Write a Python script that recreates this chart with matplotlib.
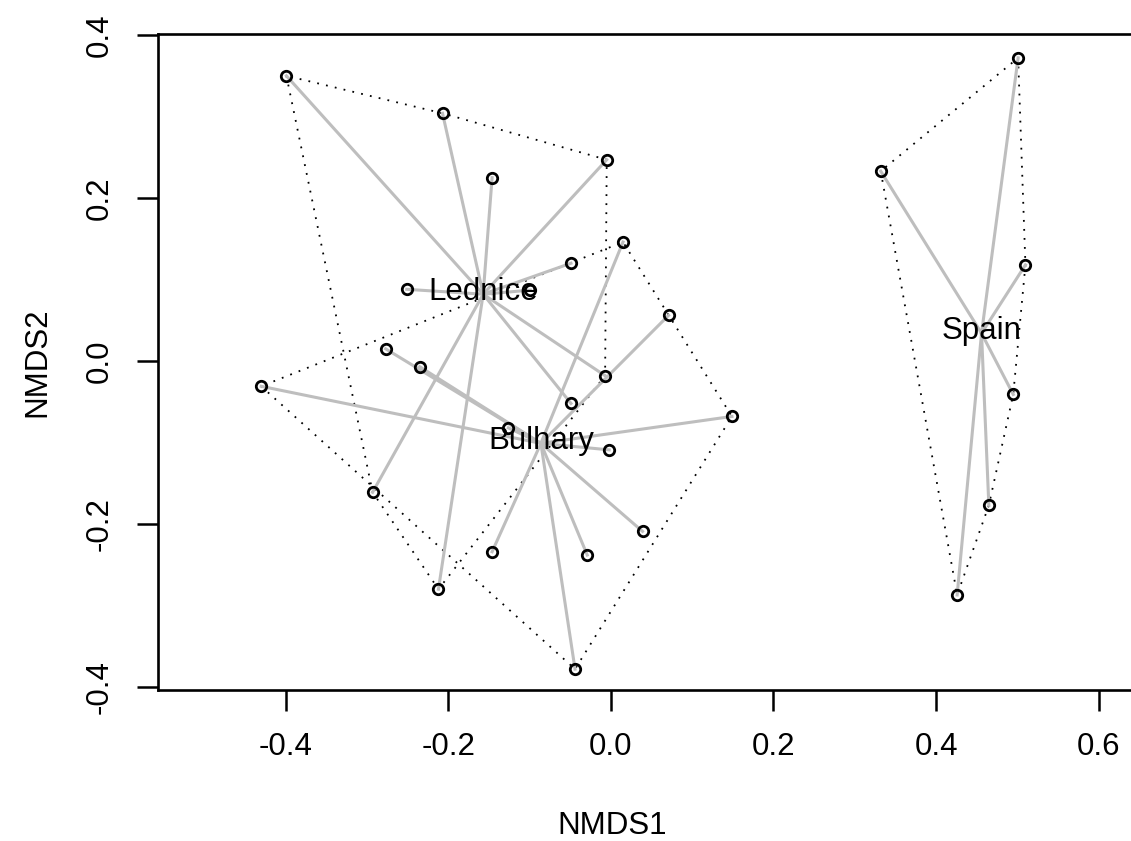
import matplotlib.pyplot as plt

# Site scores (NMDS1, NMDS2) per locality
lednice_x = [-0.399, -0.207, -0.146, -0.005, -0.049, -0.251, -0.099, -0.293, -0.212, -0.007, -0.049]
lednice_y = [0.350, 0.304, 0.225, 0.247, 0.120, 0.088, 0.087, -0.161, -0.280, -0.018, -0.052]

bulhary_x = [-0.430, -0.277, -0.235, -0.126, 0.015, 0.071, 0.149, -0.002, 0.039, -0.029, -0.146, -0.044]
bulhary_y = [-0.031, 0.015, -0.007, -0.082, 0.146, 0.056, -0.068, -0.109, -0.209, -0.238, -0.234, -0.378]

spain_x = [0.332, 0.501, 0.510, 0.495, 0.465, 0.426]
spain_y = [0.233, 0.372, 0.118, -0.041, -0.177, -0.287]

# Group centres (spider hubs / label positions)
group_names = ['Lednice', 'Bulhary', 'Spain']
centre_x = [-0.157, -0.086, 0.456]
centre_y = [0.082, -0.101, 0.034]

x_ticks = [-0.4, -0.2, 0.0, 0.2, 0.4, 0.6]
y_ticks = [-0.4, -0.2, 0.0, 0.2, 0.4]

FONT_SIZE = 22.5


def convex_hull(xs, ys):
    # Monotone chain convex hull, returns closed list of vertices.
    pts = sorted(zip(xs, ys))

    def cross(o, a, b):
        return (a[0] - o[0]) * (b[1] - o[1]) - (a[1] - o[1]) * (b[0] - o[0])

    lower = []
    for p in pts:
        while len(lower) >= 2 and cross(lower[-2], lower[-1], p) <= 0:
            lower.pop()
        lower.append(p)
    upper = []
    for p in reversed(pts):
        while len(upper) >= 2 and cross(upper[-2], upper[-1], p) <= 0:
            upper.pop()
        upper.append(p)
    hull = lower[:-1] + upper[:-1]
    hull.append(hull[0])
    return hull


def main():
    plt.rcParams['font.family'] = ['Liberation Sans', 'DejaVu Sans']
    plt.rcParams['axes.unicode_minus'] = False

    fig = plt.figure(figsize=(11.31, 8.41), dpi=100)
    ax = fig.add_axes([0.1393, 0.1795, 0.868, 0.780])

    groups = [(lednice_x, lednice_y), (bulhary_x, bulhary_y), (spain_x, spain_y)]

    for i, (gx, gy) in enumerate(groups):
        # Dotted convex hull
        hull = convex_hull(gx, gy)
        ax.plot([p[0] for p in hull], [p[1] for p in hull], color='black',
                linestyle=(0, (1, 4)), linewidth=1.3, zorder=1)
        # Spider lines to the group centre
        for x, y in zip(gx, gy):
            ax.plot([centre_x[i], x], [centre_y[i], y], color='#bebebe',
                    linewidth=2.2, zorder=2)

    # Points
    for gx, gy in groups:
        ax.plot(gx, gy, linestyle='none', marker='o', markersize=7.5,
                markerfacecolor='none', markeredgecolor='black',
                markeredgewidth=2.0, zorder=3)

    # Group labels
    for name, cx, cy in zip(group_names, centre_x, centre_y):
        ax.text(cx, cy + 0.003, name, fontsize=FONT_SIZE, ha='center', va='center', zorder=4)

    ax.set_xlim(-0.5575, 0.65)
    ax.set_ylim(-0.4037, 0.4012)

    ax.set_xticks(x_ticks)
    ax.set_xticklabels(['%.1f' % v if v != 0 else '0.0' for v in x_ticks])
    ax.set_yticks(y_ticks)
    ax.set_yticklabels(['%.1f' % v if v != 0 else '0.0' for v in y_ticks],
                       rotation=90, va='center')

    ax.tick_params(axis='both', length=15, width=1.8, labelsize=FONT_SIZE, direction='out')
    ax.tick_params(axis='x', pad=15)
    ax.tick_params(axis='y', pad=16)

    for side in ['left', 'bottom', 'top', 'right']:
        ax.spines[side].set_linewidth(1.9)

    ax.set_xlabel('NMDS1', fontsize=FONT_SIZE)
    ax.xaxis.set_label_coords((612 - 157.5) / 981.7, -0.208)
    ax.xaxis.label.set_va('center')
    ax.set_ylabel('NMDS2', fontsize=FONT_SIZE)
    ax.yaxis.set_label_coords(-0.1222, 0.5)
    ax.yaxis.label.set_va('center')

    fig.savefig('out.png', dpi=100)


if __name__ == '__main__':
    main()
